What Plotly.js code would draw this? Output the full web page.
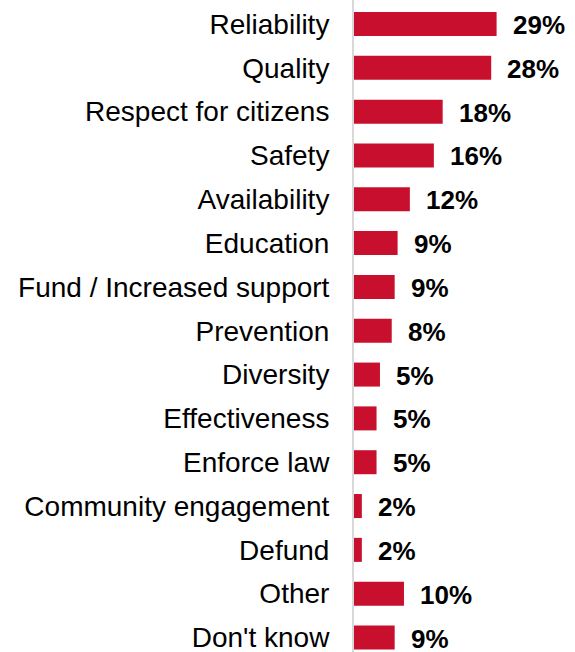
<!DOCTYPE html>
<html>
<head>
<meta charset="utf-8">
<script src="https://cdn.plot.ly/plotly-3.0.1.min.js"></script>
<style>
html,body{margin:0;padding:0;background:#fff;}
#chart{width:575px;height:652px;}
</style>
</head>
<body>
<div id="chart"></div>
<script>
var categories = ["Reliability","Quality","Respect for citizens","Safety","Availability","Education","Fund / Increased support","Prevention","Diversity","Effectiveness","Enforce law","Community engagement","Defund","Other","Don't know"];
var values = [29.1, 28.0, 18.1, 16.3, 11.4, 8.9, 8.3, 7.7, 5.3, 4.6, 4.6, 1.6, 1.6, 10.2, 8.3];
var valueLabels = ["29%","28%","18%","16%","12%","9%","9%","8%","5%","5%","5%","2%","2%","10%","9%"];

var trace = {
  type: 'bar',
  orientation: 'h',
  y: categories,
  x: values,
  marker: {color: '#C8102E'},
  hoverinfo: 'none'
};

var annotations = categories.map(function(c, i){
  return {
    x: values[i], y: c, xref: 'x', yref: 'y',
    text: valueLabels[i], showarrow: false,
    xanchor: 'left', yanchor: 'middle', xshift: 14, yshift: -1,
    font: {family: 'Liberation Sans, Arial, sans-serif', size: 26, color: '#000', weight: 'bold'}
  };
});

var layout = {
  width: 575, height: 652,
  margin: {l: 354, r: 0, t: 0, b: 0},
  paper_bgcolor: '#fff', plot_bgcolor: '#fff',
  showlegend: false,
  bargap: 0.452,
  xaxis: {range: [0, 45.1], visible: false, fixedrange: true},
  yaxis: {
    type: 'category',
    range: [14.331, -0.548],
    showline: true, linecolor: '#d9d9d9', linewidth: 2,
    showgrid: false, zeroline: false,
    ticks: 'outside', ticklen: 17, tickcolor: 'rgba(0,0,0,0)',
    tickfont: {family: 'Liberation Sans, Arial, sans-serif', size: 28, color: '#000'}
  },
  annotations: annotations
};

Plotly.newPlot('chart', [trace], layout, {displayModeBar: false, staticPlot: true});
</script>
</body>
</html>
